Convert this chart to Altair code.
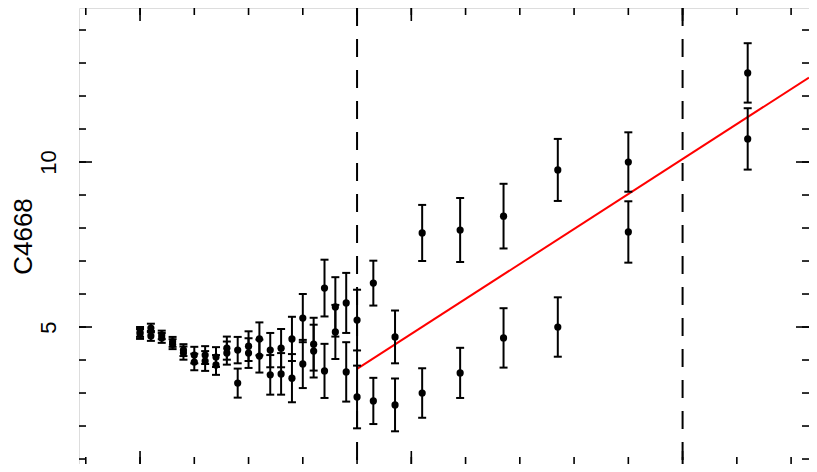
import altair as alt
import pandas as pd

# ---- data (x in major-tick units) ----
x_vals = [0.00, 0.04, 0.08, 0.12, 0.16, 0.20, 0.24, 0.28, 0.32, 0.36, 0.40,
          0.44, 0.48, 0.52, 0.56, 0.60, 0.64, 0.68, 0.72, 0.76, 0.80,
          0.86, 0.94, 1.04, 1.18, 1.34, 1.54, 1.80, 2.24]
y_a = [4.85, 4.97, 4.76, 4.55, 4.30, 4.15, 4.15, 4.09, 4.36, 4.30, 4.42,
       4.64, 4.30, 4.36, 4.64, 5.27, 4.48, 6.18, 5.61, 5.73, 5.21,
       6.33, 4.70, 7.85, 7.94, 8.36, 9.76, 10.00, 12.70]
err_a = [0.15, 0.13, 0.13, 0.15, 0.18, 0.25, 0.27, 0.30, 0.35, 0.40, 0.45,
         0.50, 0.52, 0.58, 0.67, 0.73, 0.80, 0.86, 0.90, 0.91, 0.92,
         0.68, 0.80, 0.85, 0.97, 0.98, 0.94, 0.90, 0.90]
y_b = [4.79, 4.73, 4.67, 4.48, 4.21, 3.94, 3.97, 3.85, 4.21, 3.30, 4.21,
       4.12, 3.55, 3.58, 3.45, 3.88, 4.27, 3.67, 4.85, 3.64, 2.88,
       2.76, 2.64, 3.00, 3.61, 4.67, 5.00, 7.88, 10.70]
err_b = [0.15, 0.15, 0.15, 0.15, 0.20, 0.25, 0.30, 0.30, 0.35, 0.44, 0.45,
         0.50, 0.60, 0.63, 0.73, 0.73, 0.80, 0.82, 0.82, 0.90, 0.95,
         0.70, 0.80, 0.75, 0.76, 0.90, 0.90, 0.93, 0.93]

fit_x = [0.80, 2.466]
fit_y = [3.73, 12.56]
break_x = [0.8, 2.0]

y_major = [5, 10]
y_minor = [1, 2, 3, 4, 5, 6, 7, 8, 9, 10, 11, 12, 13, 14]
x_major = [0.0, 1.0, 2.0]
x_minor = [-0.2, 0.0, 0.2, 0.4, 0.6, 0.8, 1.0, 1.2, 1.4, 1.6, 1.8, 2.0, 2.2, 2.4]

W, H = 730, 456
FONT = "Liberation Sans"

rows = []
for xv, ya, ea, yb, eb in zip(x_vals, y_a, err_a, y_b, err_b):
    rows.append({"x": xv, "y": ya, "lo": ya - ea, "hi": ya + ea})
    rows.append({"x": xv, "y": yb, "lo": yb - eb, "hi": yb + eb})
pts = pd.DataFrame(rows)

xs = alt.Scale(domain=[-0.225, 2.466], nice=False, zero=False)
ys = alt.Scale(domain=[0.849, 14.667], nice=False, zero=False)

yaxis = alt.Axis(values=y_major, labelAngle=270, labelFontSize=22, labelFont=FONT,
                 labelColor="black", labelPadding=24, labelBaseline="alphabetic",
                 labelAlign="center", ticks=False, tickSize=0, domain=False, grid=False,
                 title="C4668", titleFontSize=26, titleFont=FONT, titleFontWeight="normal",
                 titleColor="black", titleAngle=270, titleX=-56, titleY=228,
                 titleAlign="center", titleBaseline="middle")

X = lambda f: alt.X(f, scale=xs, axis=None)
Y = lambda f: alt.Y(f, scale=ys, axis=yaxis)

bars = alt.Chart(pts).mark_rule(color="black", strokeWidth=2).encode(
    x=X("x:Q"), y=Y("lo:Q"), y2="hi:Q")
cap_lo = alt.Chart(pts).mark_tick(color="black", orient="horizontal", size=8,
                                  thickness=2, opacity=1).encode(x=X("x:Q"), y=Y("lo:Q"))
cap_hi = alt.Chart(pts).mark_tick(color="black", orient="horizontal", size=8,
                                  thickness=2, opacity=1).encode(x=X("x:Q"), y=Y("hi:Q"))
dots = alt.Chart(pts).mark_circle(color="black", size=52, opacity=1).encode(
    x=X("x:Q"), y=Y("y:Q"))

fit = alt.Chart(pd.DataFrame({"x": fit_x, "y": fit_y})).mark_line(
    color="#ff0000", strokeWidth=2).encode(x=X("x:Q"), y=Y("y:Q"))
breaks = alt.Chart(pd.DataFrame({"x": break_x})).mark_rule(
    color="black", strokeWidth=2, strokeDash=[18, 13]).encode(x=X("x:Q"))

def yt(vals, x0, x1):
    return alt.Chart(pd.DataFrame({"v": vals})).mark_rule(color="black", strokeWidth=1.6).encode(
        y=Y("v:Q"), x=alt.value(x0), x2=alt.value(x1))

def xt(vals, y0, y1):
    return alt.Chart(pd.DataFrame({"u": vals})).mark_rule(color="black", strokeWidth=1.6).encode(
        x=X("u:Q"), y=alt.value(y0), y2=alt.value(y1))

ticks = [
    yt(y_minor, 0, 7), yt(y_major, 0, 13),
    yt(y_minor, W, W - 7), yt(y_major, W, W - 13),
    xt(x_minor, H, H - 7), xt(x_major, H, H - 13),
    xt(x_minor, 0, 7), xt(x_major, 0, 13),
]

chart = alt.layer(*ticks, breaks, fit, bars, cap_lo, cap_hi, dots).properties(
    width=W, height=H,
    autosize=alt.AutoSizeParams(type="none"),
    padding={"left": 71, "top": 0, "right": 0, "bottom": 0},
).configure_view(stroke="black", strokeWidth=2).configure(background="white")

chart.save("out.html", embed_options={"renderer": "svg", "actions": False})
